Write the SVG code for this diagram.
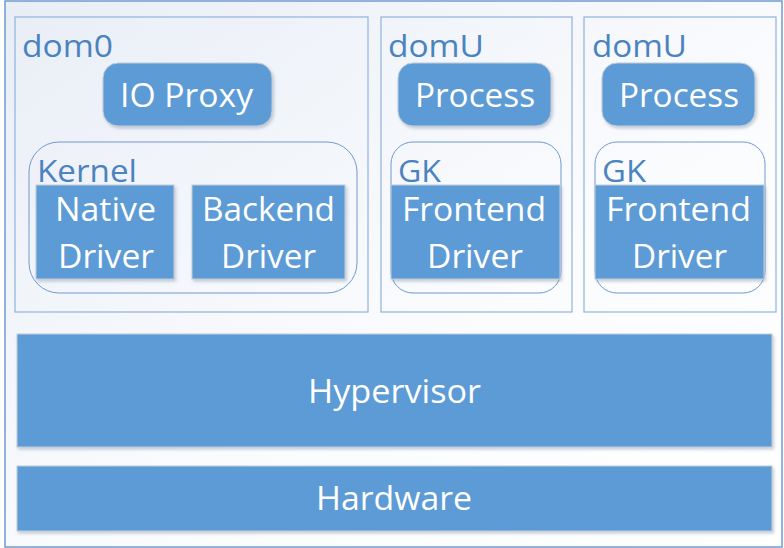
<svg xmlns="http://www.w3.org/2000/svg" width="784" height="548" viewBox="0 0 784 548">
  <defs>
    <linearGradient id="bg" x1="0" y1="0" x2="1" y2="1">
      <stop offset="0" stop-color="#e9eef6"/>
      <stop offset="0.6" stop-color="#fbfcfe"/>
      <stop offset="1" stop-color="#ffffff"/>
    </linearGradient>
    <filter id="sh" x="-10%" y="-10%" width="125%" height="130%">
      <feDropShadow dx="1.5" dy="2" stdDeviation="1.5" flood-color="#7f8fa6" flood-opacity="0.45"/>
    </filter>
  </defs>
  <style>
    .frame{fill:url(#bg);stroke:#6f9ad0;stroke-width:1.5}
    .dom{fill:none;stroke:#8fb2dc;stroke-width:1.2}
    .grp{fill:none;stroke:#6f9ad0;stroke-width:1}
    .box{fill:#5b9bd5;stroke:#c3cdd8;stroke-width:1;filter:url(#sh)}
    .lbl{font-family:"Open Sans","Noto Sans",sans-serif;font-size:31px;fill:#4a83c0}
    .txt{font-family:"Open Sans","Noto Sans",sans-serif;font-size:33px;fill:#ffffff}
  </style>
  <rect class="frame" x="5" y="1" width="777" height="546"/>
  <g id="connectors"/>

  <g id="dom0">
    <rect class="dom" x="15" y="17" width="353" height="295"/>
    <text class="lbl" x="22" y="57" textLength="91" lengthAdjust="spacingAndGlyphs">dom0</text>
  </g>
  <g id="io-proxy">
    <rect class="box" x="103" y="63" width="169" height="63" rx="15"/>
    <text class="txt" x="120" y="107" textLength="133" lengthAdjust="spacingAndGlyphs">IO Proxy</text>
  </g>
  <g id="kernel">
    <rect class="grp" x="29" y="142" width="328" height="151" rx="30"/>
    <text class="lbl" x="37" y="182" textLength="100" lengthAdjust="spacingAndGlyphs">Kernel</text>
  </g>
  <g id="native-driver">
    <rect class="box" x="36" y="185" width="138" height="94"/>
    <text class="txt" x="55" y="221" textLength="101" lengthAdjust="spacingAndGlyphs">Native</text>
    <text class="txt" x="58" y="268" textLength="96" lengthAdjust="spacingAndGlyphs">Driver</text>
  </g>
  <g id="backend-driver">
    <rect class="box" x="192" y="185" width="153" height="94"/>
    <text class="txt" x="202" y="221" textLength="133" lengthAdjust="spacingAndGlyphs">Backend</text>
    <text class="txt" x="221" y="268" textLength="95" lengthAdjust="spacingAndGlyphs">Driver</text>
  </g>

  <g id="domU1">
    <rect class="dom" x="381" y="17" width="191" height="295"/>
    <text class="lbl" x="388" y="57" textLength="96" lengthAdjust="spacingAndGlyphs">domU</text>
  </g>
  <g id="process1">
    <rect class="box" x="398" y="63" width="153" height="63" rx="15"/>
    <text class="txt" x="415" y="107" textLength="120" lengthAdjust="spacingAndGlyphs">Process</text>
  </g>
  <g id="gk1">
    <rect class="grp" x="391" y="142" width="170" height="151" rx="22"/>
    <text class="lbl" x="398" y="182" textLength="43" lengthAdjust="spacingAndGlyphs">GK</text>
  </g>
  <g id="frontend-driver1">
    <rect class="box" x="391" y="185" width="169" height="94"/>
    <text class="txt" x="402" y="221" textLength="144" lengthAdjust="spacingAndGlyphs">Frontend</text>
    <text class="txt" x="427" y="268" textLength="96" lengthAdjust="spacingAndGlyphs">Driver</text>
  </g>

  <g id="domU2">
    <rect class="dom" x="584" y="17" width="192" height="295"/>
    <text class="lbl" x="592" y="57" textLength="95" lengthAdjust="spacingAndGlyphs">domU</text>
  </g>
  <g id="process2">
    <rect class="box" x="602" y="63" width="153" height="63" rx="15"/>
    <text class="txt" x="619" y="107" textLength="120" lengthAdjust="spacingAndGlyphs">Process</text>
  </g>
  <g id="gk2">
    <rect class="grp" x="595" y="142" width="170" height="151" rx="22"/>
    <text class="lbl" x="602" y="182" textLength="44" lengthAdjust="spacingAndGlyphs">GK</text>
  </g>
  <g id="frontend-driver2">
    <rect class="box" x="595" y="185" width="169" height="94"/>
    <text class="txt" x="606" y="221" textLength="145" lengthAdjust="spacingAndGlyphs">Frontend</text>
    <text class="txt" x="632" y="268" textLength="95" lengthAdjust="spacingAndGlyphs">Driver</text>
  </g>

  <g id="hypervisor">
    <rect class="box" x="17" y="334" width="755" height="113"/>
    <text class="txt" x="308" y="403" textLength="173" lengthAdjust="spacingAndGlyphs">Hypervisor</text>
  </g>
  <g id="hardware">
    <rect class="box" x="17" y="466" width="755" height="65"/>
    <text class="txt" x="316" y="510" textLength="156" lengthAdjust="spacingAndGlyphs">Hardware</text>
  </g>
</svg>
